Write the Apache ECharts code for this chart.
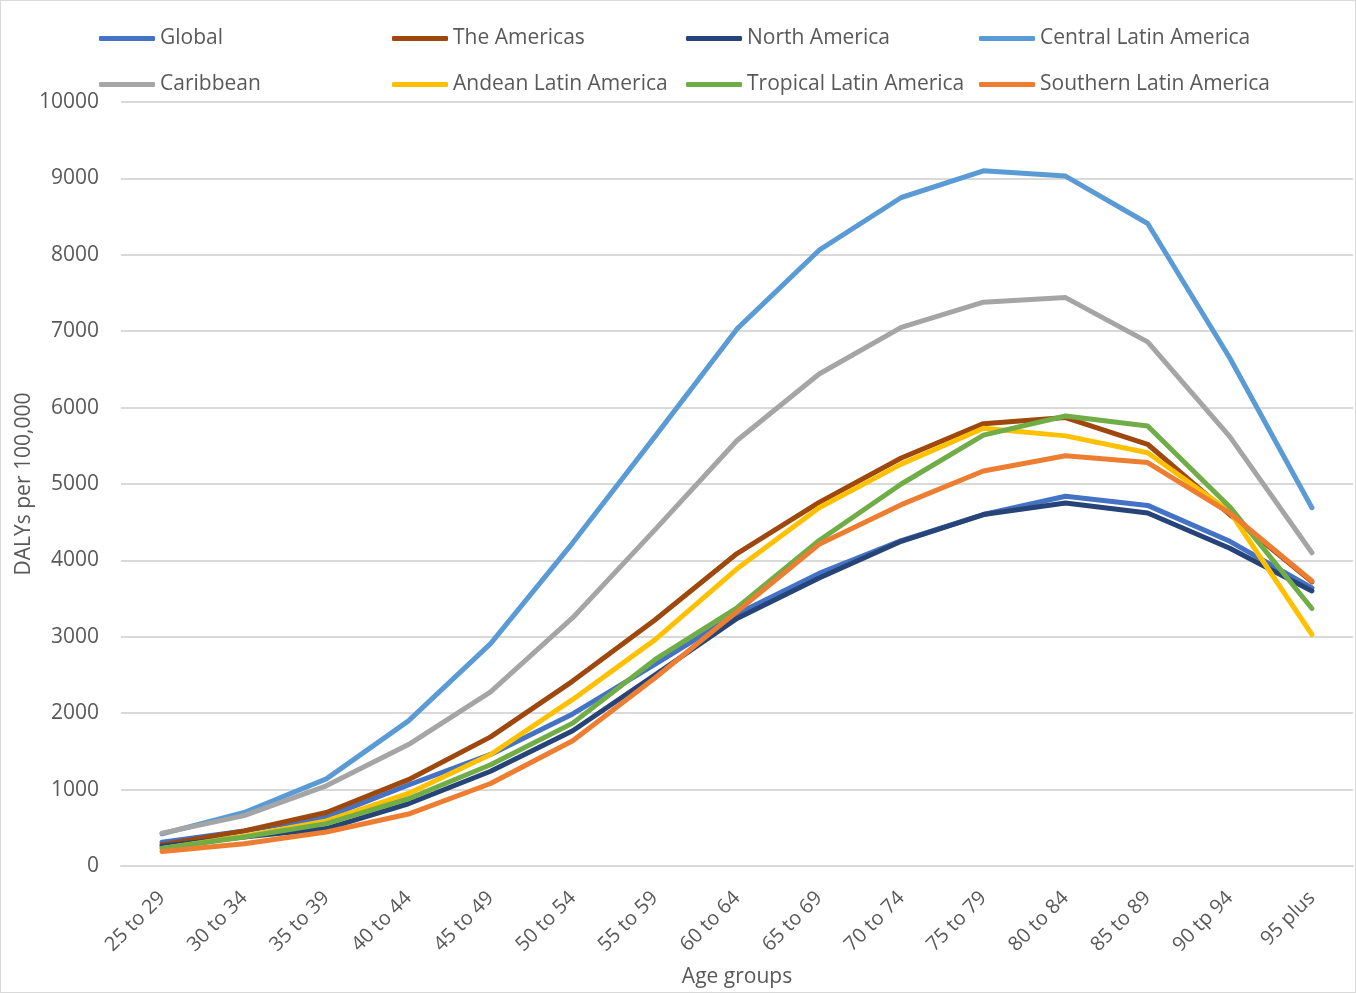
<!DOCTYPE html>
<html>
<head>
<meta charset="utf-8">
<script src="https://cdn.jsdelivr.net/npm/echarts@6/dist/echarts.min.js"></script>
<style>
  html, body { margin: 0; padding: 0; background: #fff; overflow: hidden; }
  #chart { width: 100vw; height: 100vh; }
  #frame { position: fixed; left: 0; top: 0; right: 0; bottom: 0; border: 1px solid #d9d9d9; pointer-events: none; }
</style>
</head>
<body>
<div id="chart"></div>
<div id="frame"></div>
<script>
// Age groups on the x axis
const ageGroups = ['25 to 29', '30 to 34', '35 to 39', '40 to 44', '45 to 49', '50 to 54', '55 to 59',
  '60 to 64', '65 to 69', '70 to 74', '75 to 79', '80 to 84', '85 to 89', '90 tp 94', '95 plus'];

// DALYs per 100,000 by region
const global          = [310, 460, 640, 1060, 1460, 1990, 2640, 3300, 3830, 4260, 4600, 4840, 4720, 4250, 3640];
const theAmericas     = [280, 460, 700, 1130, 1690, 2420, 3220, 4090, 4760, 5340, 5790, 5870, 5520, 4600, 3720];
const northAmerica    = [260, 380, 490, 815, 1240, 1770, 2500, 3240, 3770, 4250, 4600, 4750, 4620, 4160, 3600];
const centralLatAm    = [420, 700, 1140, 1900, 2910, 4230, 5620, 7030, 8060, 8750, 9100, 9030, 8410, 6650, 4690];
const caribbean       = [430, 660, 1050, 1590, 2280, 3250, 4400, 5570, 6440, 7050, 7380, 7440, 6860, 5620, 4100];
const andeanLatAm     = [230, 390, 590, 950, 1460, 2180, 2960, 3890, 4690, 5260, 5730, 5630, 5410, 4640, 3030];
const tropicalLatAm   = [230, 380, 555, 880, 1325, 1870, 2700, 3380, 4260, 5000, 5640, 5890, 5760, 4700, 3370];
const southernLatAm   = [190, 290, 445, 680, 1080, 1640, 2460, 3330, 4210, 4730, 5170, 5370, 5280, 4620, 3730];

const seriesNames = ['Global', 'The Americas', 'North America', 'Central Latin America',
  'Caribbean', 'Andean Latin America', 'Tropical Latin America', 'Southern Latin America'];
const seriesData = [global, theAmericas, northAmerica, centralLatAm,
  caribbean, andeanLatAm, tropicalLatAm, southernLatAm];
const seriesColors = ['#4472C4', '#9E480E', '#264478', '#5B9BD5',
  '#A5A5A5', '#FFC000', '#70AD47', '#ED7D31'];

const yTicks = { min: 0, max: 10000, interval: 1000 };

const textColor = '#595959';
const uiFont = '"Open Sans", sans-serif';

// Legend laid out as a 4-column, 2-row table: one legend block per entry
const legendCols = [99, 392, 686, 979];
const legendRows = [28, 74];
const legends = seriesNames.map((name, i) => ({
  left: legendCols[i % 4],
  top: legendRows[Math.floor(i / 4)],
  padding: 0,
  itemWidth: 56,
  itemHeight: 5,
  icon: 'roundRect',
  data: [name],
  textStyle: {
    color: textColor,
    fontSize: 21,
    fontFamily: uiFont
  }
}));

const chart = echarts.init(document.getElementById('chart'));
chart.setOption({
  backgroundColor: '#ffffff',
  animation: false,
  color: seriesColors,
  legend: legends,
  grid: { left: 121, right: 3, top: 102, bottom: 121, containLabel: false },
  xAxis: {
    type: 'category',
    data: ageGroups,
    boundaryGap: true,
    name: 'Age groups',
    nameLocation: 'middle',
    nameGap: 101,
    nameMoveOverlap: false,
    nameTextStyle: { color: textColor, fontSize: 21, fontFamily: uiFont },
    axisLine: { show: true, lineStyle: { color: '#D9D9D9', width: 2 } },
    axisTick: { show: false },
    axisLabel: {
      rotate: 45,
      margin: 29,
      color: textColor,
      fontSize: 20,
      fontFamily: uiFont
    }
  },
  yAxis: {
    type: 'value',
    min: yTicks.min,
    max: yTicks.max,
    interval: yTicks.interval,
    name: 'DALYs per 100,000',
    nameLocation: 'middle',
    nameGap: 86,
    nameMoveOverlap: false,
    nameRotate: 90,
    nameTextStyle: { color: textColor, fontSize: 21, fontFamily: uiFont },
    axisLine: { show: false },
    axisTick: { show: false },
    axisLabel: {
      margin: 22,
      color: textColor,
      fontSize: 21,
      fontFamily: uiFont,
      formatter: (v) => String(v)
    },
    splitLine: { lineStyle: { color: '#D9D9D9', width: 2 } }
  },
  series: seriesNames.map((name, i) => ({
    name: name,
    type: 'line',
    data: seriesData[i],
    symbol: 'none',
    smooth: false,
    lineStyle: { width: 5, color: seriesColors[i], cap: 'round', join: 'round' },
    itemStyle: { color: seriesColors[i] }
  }))
});
</script>
</body>
</html>
